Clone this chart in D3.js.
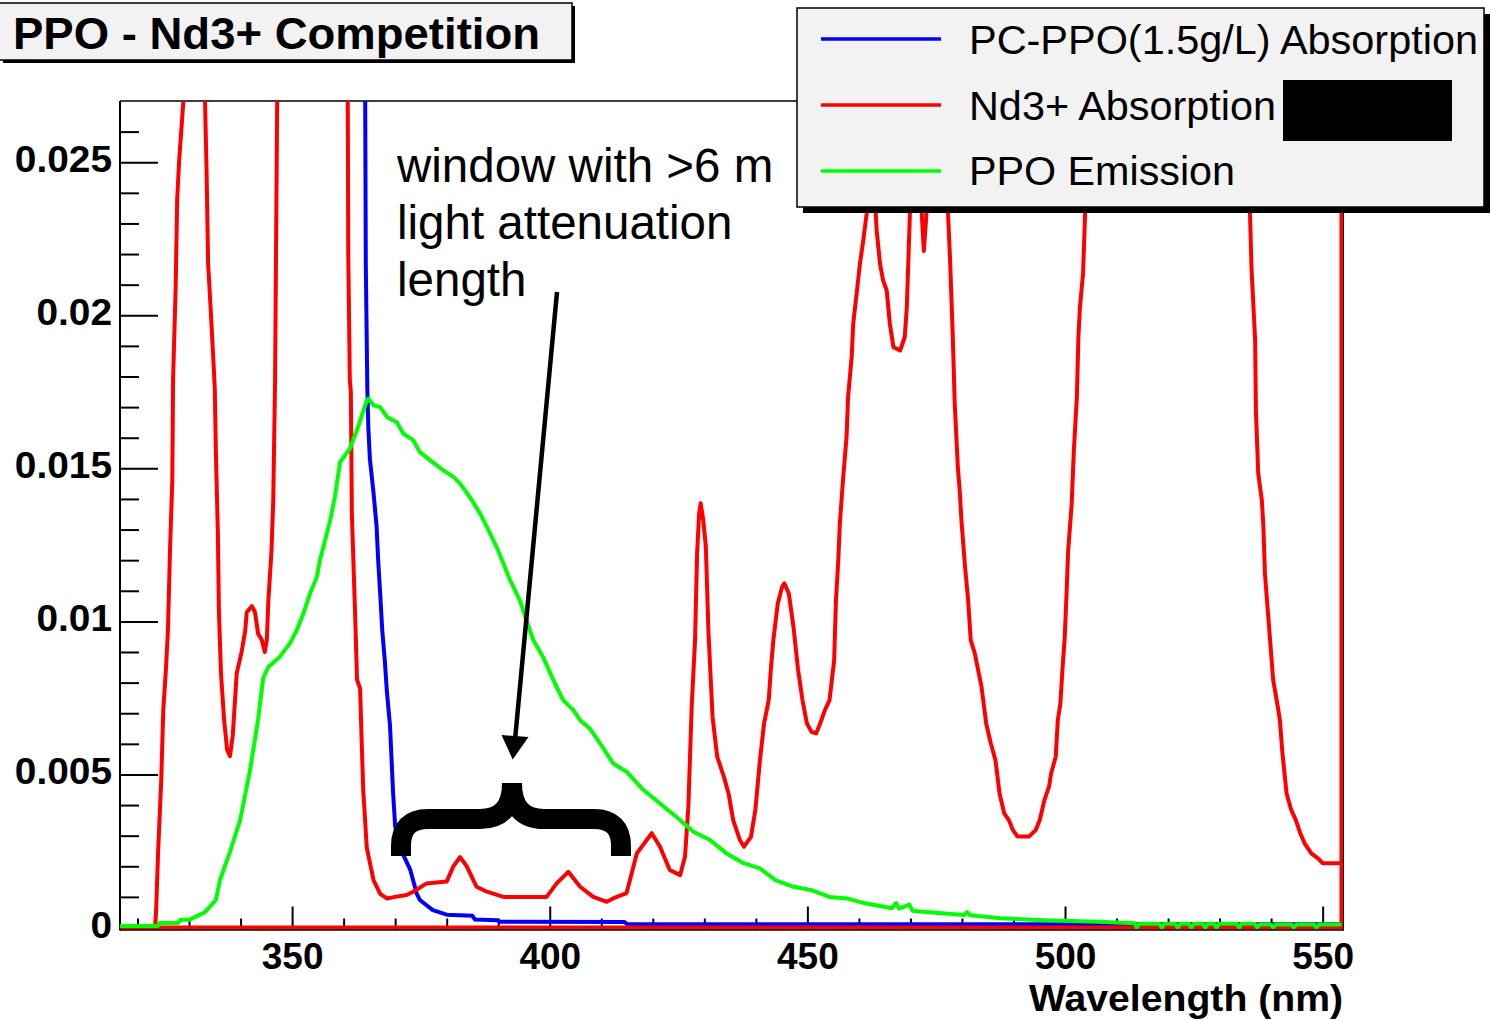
<!DOCTYPE html>
<html><head><meta charset="utf-8">
<script src="https://cdn.jsdelivr.net/npm/d3@7"></script>
<style>
html,body{margin:0;padding:0;background:#fff;}
svg{display:block;}
text{font-family:"Liberation Sans", Arial, Helvetica, sans-serif;}
</style></head><body>
<svg id="chart" width="1492" height="1020"></svg>
<script>
// ---------- text / ticks ----------
const titleText = "PPO - Nd3+ Competition";
const xLabel = "Wavelength (nm)";
const legendLabels = ["PC-PPO(1.5g/L) Absorption", "Nd3+ Absorption", "PPO Emission"];
const seriesColors = ["#0000ff", "#ff0000", "#00ff00"];
const xTickValues = [350, 400, 450, 500, 550];
const xTickLabels = ["350", "400", "450", "500", "550"];
const yTickValues = [0, 0.005, 0.01, 0.015, 0.02, 0.025];
const yTickLabels = ["0", "0.005", "0.01", "0.015", "0.02", "0.025"];
const annotationLines = ["window with >6 m", "light attenuation", "length"];
const xDomain = [316.6, 553.95];
const yDomain = [0, 0.027];

// ---------- series: PC-PPO(1.5g/L) absorption (blue) ----------
const ppoAbsWl = [363.5, 364.3, 364.6, 364.8, 365.1, 365.8, 366.4, 366.7, 367.1, 367.5, 368.0, 368.4, 369.0, 369.6, 370.0, 371.5, 372.9, 374.2, 374.8, 377.3, 380.0, 385.0, 385.5, 389.8, 390.3, 414.5, 415.0, 553.65];
const ppoAbsVal = [0.06, 0.0217, 0.0176, 0.0163, 0.0153, 0.0142, 0.0131, 0.0120, 0.0109, 0.0097, 0.0087, 0.0077, 0.0066, 0.0044, 0.0033, 0.0024, 0.0019, 0.0011, 0.0009, 0.00057, 0.00042, 0.00038, 0.00026, 0.00024, 0.00019, 0.00018, 0.00011, 0.00011];

// ---------- series: Nd3+ absorption (red) ----------
const ndWl = [316.6, 323.4, 323.6, 324.0, 324.6, 325.0, 325.5, 325.9, 326.3, 326.75, 326.9, 327.4, 327.7, 328.1, 328.9, 331.0, 333.1, 333.4, 333.7, 334.2, 334.7, 335.0, 335.2, 335.6, 335.8, 336.2, 336.8, 337.4, 337.95, 338.5, 339.25, 340.2, 340.9, 341.2, 342.2, 342.8, 343.4, 344.1, 344.7, 345.1, 345.4, 346.0, 346.35, 346.7, 347.1, 353.5, 360.8, 360.9, 361.2, 361.4, 361.6, 362.2, 362.6, 363.2, 363.5, 363.8, 364.5, 365.8, 367.1, 368.4, 370.0, 372.2, 373.5, 376.1, 380.0, 381.3, 382.6, 383.9, 385.8, 387.8, 391.0, 399.4, 401.35, 403.6, 405.9, 408.45, 411.05, 412.3, 414.9, 416.9, 419.8, 421.4, 423.3, 425.3, 426.25, 426.9, 427.55, 428.2, 428.6, 429.0, 429.3, 429.8, 430.3, 430.8, 431.6, 432.5, 433.8, 434.7, 435.6, 436.9, 437.7, 439.05, 439.9, 440.8, 441.6, 442.5, 442.9, 443.4, 444.25, 445.1, 445.55, 446.4, 447.3, 448.2, 449.05, 449.9, 450.8, 451.7, 452.5, 453.4, 454.3, 455.2, 455.55, 456.0, 456.3, 456.96, 457.6, 457.9, 458.6, 458.9, 459.56, 460.2, 460.85, 461.5, 462.2, 462.9, 463.45, 464.1, 464.7, 465.4, 466.0, 466.7, 468.0, 468.9, 469.3, 469.6, 469.9, 471.0, 472.2, 472.6, 473.1, 474.5, 477.3, 477.7, 478.2, 478.6, 479.2, 479.6, 479.9, 480.6, 481.2, 481.7, 482.5, 483.8, 484.7, 485.6, 486.5, 487.3, 488.2, 489.1, 489.9, 490.8, 493.0, 494.3, 495.1, 496.0, 496.9, 497.3, 498.2, 498.6, 499.1, 499.5, 499.95, 500.3, 500.6, 501.3, 501.7, 502.3, 502.6, 502.9, 503.5, 503.9, 506.0, 520.0, 534.0, 535.9, 536.2, 536.9, 537.05, 537.5, 538.2, 538.5, 538.8, 539.4, 539.9, 540.4, 541.3, 541.7, 542.2, 542.6, 543.0, 543.9, 544.8, 545.65, 546.5, 547.8, 549.1, 550.0, 553.65, 553.65, 553.65, 316.6];
const ndVal = [0, 0, 0.0005, 0.0025, 0.0048, 0.0071, 0.0084, 0.0097, 0.0123, 0.0146, 0.0179, 0.0209, 0.0238, 0.0251, 0.0270, 0.034, 0.0270, 0.0247, 0.0217, 0.0202, 0.0186, 0.0176, 0.0156, 0.0128, 0.0103, 0.0083, 0.0068, 0.0058, 0.0056, 0.0063, 0.0083, 0.0090, 0.0097, 0.0103, 0.0105, 0.0103, 0.0096, 0.0094, 0.0090, 0.0094, 0.0107, 0.0123, 0.0140, 0.0179, 0.0270, 0.040, 0.0270, 0.0220, 0.0179, 0.0175, 0.0135, 0.0104, 0.0081, 0.0078, 0.0061, 0.0045, 0.0026, 0.00155, 0.0011, 0.00095, 0.0010, 0.00106, 0.00117, 0.00144, 0.0015, 0.0020, 0.0023, 0.0020, 0.00133, 0.00117, 0.0010, 0.0010, 0.00144, 0.00182, 0.00133, 0.0010, 0.00084, 0.00095, 0.00112, 0.00242, 0.00308, 0.00264, 0.00188, 0.00171, 0.00231, 0.00394, 0.00721, 0.00939, 0.01223, 0.01353, 0.01386, 0.0133, 0.01243, 0.00966, 0.00688, 0.00558, 0.00492, 0.00438, 0.00351, 0.00286, 0.00264, 0.00296, 0.00384, 0.00547, 0.00667, 0.00743, 0.00841, 0.00939, 0.01058, 0.01113, 0.01124, 0.01091, 0.00982, 0.00841, 0.00743, 0.00667, 0.00639, 0.00634, 0.00667, 0.0071, 0.00743, 0.00873, 0.01069, 0.012, 0.0132, 0.01472, 0.01602, 0.01733, 0.01864, 0.01973, 0.0207, 0.02168, 0.02245, 0.02332, 0.0246, 0.0244, 0.02277, 0.02168, 0.02114, 0.02081, 0.01973, 0.01896, 0.01885, 0.01929, 0.02027, 0.02179, 0.02332, 0.0290, 0.0233, 0.0221, 0.0233, 0.0300, 0.02332, 0.02179, 0.01941, 0.01712, 0.01504, 0.01419, 0.0133, 0.01178, 0.01069, 0.00939, 0.00895, 0.00786, 0.00667, 0.00601, 0.00547, 0.00438, 0.00373, 0.00351, 0.00318, 0.00297, 0.00297, 0.00318, 0.00351, 0.00416, 0.0046, 0.00503, 0.00558, 0.00677, 0.00732, 0.00841, 0.00949, 0.01091, 0.01227, 0.01385, 0.01553, 0.01733, 0.01929, 0.02027, 0.02136, 0.02332, 0.032, 0.05, 0.032, 0.02332, 0.02152, 0.01918, 0.0169, 0.01483, 0.01396, 0.01309, 0.01156, 0.01026, 0.00917, 0.00808, 0.00721, 0.00677, 0.00569, 0.00503, 0.00438, 0.00384, 0.00351, 0.00308, 0.00275, 0.00242, 0.00226, 0.0021, 0.0021, 0.06, 0, 0];

// ---------- series: PPO emission (green) ----------
const emWl = [316.6, 324.0, 324.2, 327.9, 328.3, 330.0, 333.1, 335.2, 336.0, 338.0, 339.9, 341.8, 343.4, 344.4, 345.4, 347.6, 349.6, 350.9, 352.2, 353.5, 354.8, 355.4, 356.4, 357.4, 358.3, 359.3, 361.2, 362.8, 364.5, 364.8, 365.8, 367.1, 368.4, 370.3, 371.6, 373.5, 374.8, 376.8, 379.3, 381.3, 382.6, 384.5, 386.5, 387.8, 389.7, 391.0, 392.3, 394.2, 396.8, 398.7, 400.7, 402.6, 404.6, 405.9, 407.8, 409.8, 412.3, 414.9, 418.2, 421.4, 425.3, 427.9, 431.1, 434.3, 437.6, 440.8, 443.8, 447.3, 450.8, 454.3, 457.7, 461.2, 466.4, 467.2, 467.8, 469.8, 470.4, 471.7, 480.4, 481.0, 481.6, 487.4, 496.0, 506.4, 513.5, 513.9, 514.4, 518.3, 518.8, 519.3, 521.4, 521.9, 522.4, 524.0, 524.5, 525.0, 526.7, 527.2, 527.7, 528.9, 529.4, 529.9, 533.3, 533.8, 534.3, 536.8, 537.3, 537.8, 539.9, 540.4, 540.9, 543.9, 544.4, 544.9, 548.3, 548.8, 549.3, 553.65];
const emVal = [0.00005, 0.00005, 0.00015, 0.00015, 0.00025, 0.00025, 0.0005, 0.0009, 0.00155, 0.0025, 0.0035, 0.0051, 0.0068, 0.00815, 0.00851, 0.00884, 0.00929, 0.00971, 0.01026, 0.01092, 0.01145, 0.012, 0.01265, 0.0133, 0.01406, 0.0152, 0.01564, 0.01635, 0.01722, 0.01728, 0.01706, 0.017, 0.01668, 0.01651, 0.01613, 0.01592, 0.01553, 0.01526, 0.01494, 0.01472, 0.0145, 0.01406, 0.01352, 0.01309, 0.01243, 0.01189, 0.01135, 0.01069, 0.00939, 0.00884, 0.00808, 0.00743, 0.0071, 0.00677, 0.0065, 0.00601, 0.00536, 0.00509, 0.00449, 0.00405, 0.00351, 0.00313, 0.00286, 0.00242, 0.0021, 0.00193, 0.00155, 0.00133, 0.00122, 0.001, 0.00095, 0.00079, 0.00063, 0.0008, 0.00062, 0.00075, 0.00055, 0.00052, 0.00041, 0.0005, 0.0004, 0.0003, 0.00024, 0.00019, 0.00014, 0, 0.00012, 0.00012, 0, 0.00012, 0.00012, 0, 0.00012, 0.00012, 0, 0.00012, 0.00012, 0, 0.00012, 0.00012, 0, 0.00012, 0.00012, 0, 0.00012, 0.00012, 0, 0.0001, 0.0001, 0, 0.0001, 0.0001, 0, 0.0001, 0.0001, 0, 0.0001, 0.0001];

// ---------- drawing ----------
const svg = d3.select("#chart");
const W = 1492, H = 1020;
const plot = {left: 120, right: 1343, top: 101, bottom: 927.5};
const x = d3.scaleLinear().domain(xDomain).range([plot.left, plot.right]);
const y = d3.scaleLinear().domain(yDomain).range([plot.bottom, plot.top]);

svg.append("rect").attr("width", W).attr("height", H).attr("fill", "#fff");

svg.append("defs").append("clipPath").attr("id", "clip")
  .append("rect").attr("x", plot.left).attr("y", plot.top)
  .attr("width", plot.right - plot.left).attr("height", 832);

const toPts = (wl, v) => wl.map((w, i) => [w, v[i]]);
const series = [toPts(ppoAbsWl, ppoAbsVal), toPts(ndWl, ndVal), toPts(emWl, emVal)];
const line = d3.line().x(d => x(d[0])).y(d => y(d[1]));

const axisY = 929.5;
const stretch = (sel, k) => sel.each(function () {
  const w = this.getComputedTextLength();
  d3.select(this).attr("textLength", w * k).attr("lengthAdjust", "spacingAndGlyphs");
});

// frame
svg.append("line").attr("x1", plot.left).attr("x2", plot.right).attr("y1", plot.top).attr("y2", plot.top)
  .attr("stroke", "#000").attr("stroke-width", 1.5);
svg.append("line").attr("x1", plot.right).attr("x2", plot.right).attr("y1", plot.top).attr("y2", axisY)
  .attr("stroke", "#000").attr("stroke-width", 2);

// y axis
const yMinor = d3.range(0, 0.0265, 0.001).filter(v => Math.abs(Math.round(v / 0.005) * 0.005 - v) > 1e-7);
svg.append("g").attr("transform", `translate(${plot.left},0)`)
  .call(d3.axisLeft(y).tickValues(yMinor).tickSize(-19).tickFormat(""))
  .call(g => g.select(".domain").remove())
  .call(g => g.selectAll("line").attr("stroke", "#000").attr("stroke-width", 2));
const gy = svg.append("g").attr("transform", `translate(${plot.left},0)`)
  .call(d3.axisLeft(y).tickValues(yTickValues).tickSize(-38).tickPadding(8)
        .tickFormat((d, i) => yTickLabels[i]))
  .call(g => g.select(".domain").remove());
gy.selectAll("line").attr("stroke", "#000").attr("stroke-width", 2);
gy.selectAll("text").attr("dy", null).attr("y", 9.5)
  .attr("font-family", "Liberation Sans, Arial, sans-serif")
  .attr("font-size", 37).attr("font-weight", "bold").attr("fill", "#000")
  .call(stretch, 1.05);

// x axis
const xMinor = d3.range(320, 554, 10).filter(v => v % 50 !== 0);
svg.append("g").attr("transform", `translate(0,${axisY})`)
  .call(d3.axisBottom(x).tickValues(xMinor).tickSize(-11).tickFormat(""))
  .call(g => g.select(".domain").remove())
  .call(g => g.selectAll("line").attr("stroke", "#000").attr("stroke-width", 2));
const gx = svg.append("g").attr("transform", `translate(0,${axisY})`)
  .call(d3.axisBottom(x).tickValues(xTickValues).tickSize(-23)
        .tickFormat((d, i) => xTickLabels[i]))
  .call(g => g.select(".domain").remove());
gx.selectAll("line").attr("stroke", "#000").attr("stroke-width", 2);
gx.selectAll("text").attr("dy", null).attr("y", 39)
  .attr("font-family", "Liberation Sans, Arial, sans-serif")
  .attr("font-size", 37).attr("font-weight", "bold").attr("fill", "#000");

svg.append("line").attr("x1", plot.left).attr("x2", plot.left).attr("y1", plot.top).attr("y2", axisY + 1)
  .attr("stroke", "#000").attr("stroke-width", 2);

// curves
const curves = svg.append("g").attr("clip-path", "url(#clip)");
series.forEach((s, i) => {
  curves.append("path").datum(s).attr("d", line)
    .attr("fill", "none").attr("stroke", seriesColors[i])
    .attr("stroke-width", 4).attr("stroke-linejoin", "round");
});

svg.append("line").attr("x1", plot.left).attr("x2", plot.right + 1).attr("y1", axisY + 0.5).attr("y2", axisY + 0.5)
  .attr("stroke", "#000").attr("stroke-width", 1.5);

// x axis title
svg.append("text").attr("x", 1343).attr("y", 1011).attr("text-anchor", "end")
  .attr("font-size", 37).attr("font-weight", "bold").attr("textLength", 314)
  .attr("lengthAdjust", "spacingAndGlyphs").text(xLabel);

// annotation
const ann = svg.append("g");
annotationLines.forEach((t, i) => {
  ann.append("text").attr("x", 397).attr("y", 182 + i * 57).attr("font-size", 47.5)
    .attr("fill", "#000").text(t);
});
ann.append("line").attr("x1", 557).attr("y1", 292).attr("x2", 515).attr("y2", 740)
  .attr("stroke", "#000").attr("stroke-width", 4.5);
ann.append("path").attr("d", "M501.5,735 L528.5,737 L512.7,759.5 Z").attr("fill", "#000");
ann.append("path")
  .attr("d", "M401,856 L401,846 Q401,819 428,819 L480,819 Q512,819 512,783 M621,856 L621,846 Q621,819 594,819 L544,819 Q512,819 512,783")
  .attr("fill", "none").attr("stroke", "#000").attr("stroke-width", 20).attr("stroke-linecap", "butt");

// legend
const lg = {x: 797, y: 8, w: 687, h: 199};
svg.append("rect").attr("x", lg.x + 6).attr("y", lg.y + 6).attr("width", lg.w).attr("height", lg.h).attr("fill", "#000");
svg.append("rect").attr("x", lg.x).attr("y", lg.y).attr("width", lg.w).attr("height", lg.h)
  .attr("fill", "#f2f2f2").attr("stroke", "#000").attr("stroke-width", 1.5);
const legendRowY = [39, 105, 171];
const legendBaseY = [54, 120, 185];
const legendWidths = [509, 307, 266];
legendLabels.forEach((t, i) => {
  svg.append("line").attr("x1", 821).attr("x2", 941).attr("y1", legendRowY[i]).attr("y2", legendRowY[i])
    .attr("stroke", seriesColors[i]).attr("stroke-width", 3.5);
  svg.append("text").attr("x", 969).attr("y", legendBaseY[i]).attr("font-size", 41)
    .attr("textLength", legendWidths[i]).attr("lengthAdjust", "spacingAndGlyphs")
    .attr("fill", "#000").text(t);
});
svg.append("rect").attr("x", 1283).attr("y", 80).attr("width", 169).attr("height", 61).attr("fill", "#000");

// title box
svg.append("rect").attr("x", 3).attr("y", 6).attr("width", 572).attr("height", 57).attr("fill", "#000");
svg.append("rect").attr("x", -1).attr("y", 3).attr("width", 573).attr("height", 57)
  .attr("fill", "#f2f2f2").attr("stroke", "#000").attr("stroke-width", 1.5);
svg.append("text").attr("x", 13).attr("y", 49).attr("font-size", 45).attr("font-weight", "bold")
  .attr("textLength", 527).attr("lengthAdjust", "spacingAndGlyphs").text(titleText);
</script>
</body></html>
